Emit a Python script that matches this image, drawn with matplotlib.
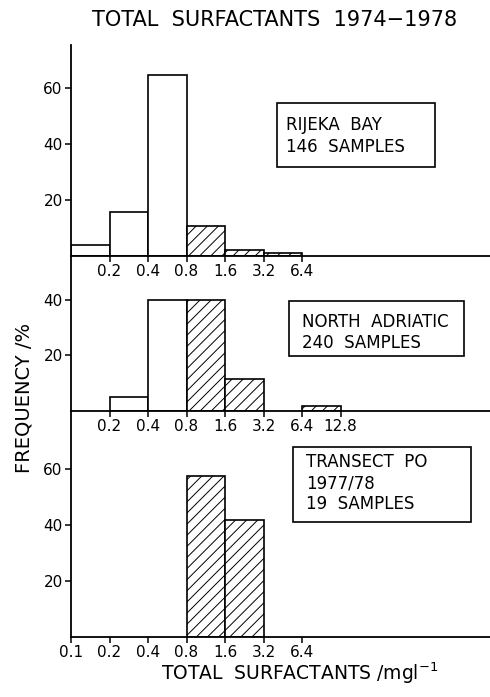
import numpy as np
import matplotlib
matplotlib.use('Agg')
import matplotlib.pyplot as plt
from matplotlib.patches import Rectangle

# bin edges (mg/l), log2 spaced
bin_edges = [0.1, 0.2, 0.4, 0.8, 1.6, 3.2, 6.4, 12.8]

# frequencies (%) per bin
rijeka = [4.0, 15.6, 64.5, 10.7, 2.0, 1.0, 0]
adriatic = [0, 5.0, 40.0, 40.0, 11.2, 0, 1.5]
po = [0, 0, 0, 57.5, 41.6, 0, 0]

rijeka_ticks = [0.2, 0.4, 0.8, 1.6, 3.2, 6.4]
adriatic_ticks = [0.2, 0.4, 0.8, 1.6, 3.2, 6.4, 12.8]
po_ticks = [0.1, 0.2, 0.4, 0.8, 1.6, 3.2, 6.4]

rijeka_label = ['RIJEKA  BAY', '146  SAMPLES']
adriatic_label = ['NORTH  ADRIATIC', '240  SAMPLES']
po_label = ['TRANSECT  PO', '1977/78', '19  SAMPLES']

plt.rcParams['font.family'] = 'DejaVu Sans'
plt.rcParams['hatch.linewidth'] = 0.7

W, H = 490, 697
fig = plt.figure(figsize=(W / 100, H / 100), dpi=100)

x0 = 71
octave = 38.5
xmax = 0.1 * 2 ** ((W - x0) / octave)


def panel(bottom_px, top_px, px_per_unit, values, xticks, yticks):
    ax = fig.add_axes([x0 / W, (H - bottom_px) / H, (W - x0) / W, (bottom_px - top_px) / H])
    ax.set_xscale('log', base=2)
    ax.set_xlim(0.1, xmax)
    ax.set_ylim(0, (bottom_px - top_px) / px_per_unit)
    ax.patch.set_alpha(0)
    for s in ['top', 'right']:
        ax.spines[s].set_visible(False)
    ax.spines['left'].set_linewidth(1.3)
    ax.spines['bottom'].set_linewidth(1.3)
    left = np.array(bin_edges[:-1])
    width = np.diff(bin_edges)
    for l, w, v in zip(left, width, values):
        if v <= 0:
            continue
        ax.bar(l, v, width=w, align='edge', facecolor='white', edgecolor='black',
               linewidth=1.2, hatch='///' if l >= 0.8 else None)
    ax.set_xticks(xticks)
    ax.set_xticklabels([('%g' % t) for t in xticks])
    ax.xaxis.set_minor_locator(plt.NullLocator())
    ax.set_yticks(yticks)
    ax.tick_params(axis='both', direction='out', length=4, width=1.1, labelsize=11, pad=2)
    return ax


ax1 = panel(256, 45, 2.8, rijeka, rijeka_ticks, [20, 40, 60])
ax2 = panel(410.5, 256, 2.77, adriatic, adriatic_ticks, [20, 40])
ax3 = panel(636.7, 410.5, 2.8, po, po_ticks, [20, 40, 60])


def box(x1, y1, x2, y2, tx, lines_y, lines):
    fig.add_artist(Rectangle((x1 / W, 1 - y2 / H), (x2 - x1) / W, (y2 - y1) / H,
                             transform=fig.transFigure, facecolor='white',
                             edgecolor='black', linewidth=1.2))
    for ly, t in zip(lines_y, lines):
        fig.text(tx / W, 1 - ly / H, t, fontsize=12, ha='left', va='center')


box(277, 103, 435, 167, 286, [125, 147], rijeka_label)
box(289, 301, 464, 356, 302, [322, 343], adriatic_label)
box(293, 447, 471, 522, 306, [462, 483, 504], po_label)

fig.text(275 / W, 1 - 20 / H, 'TOTAL  SURFACTANTS  1974\u22121978', fontsize=15,
         ha='center', va='center')
fig.text(24 / W, 1 - 398 / H, 'FREQUENCY /%', fontsize=14, rotation=90,
         ha='center', va='center')
fig.text(300 / W, 1 - 673 / H, 'TOTAL  SURFACTANTS /mgl$^{-1}$', fontsize=13.5,
         ha='center', va='center')

fig.savefig('out.png', dpi=100)
